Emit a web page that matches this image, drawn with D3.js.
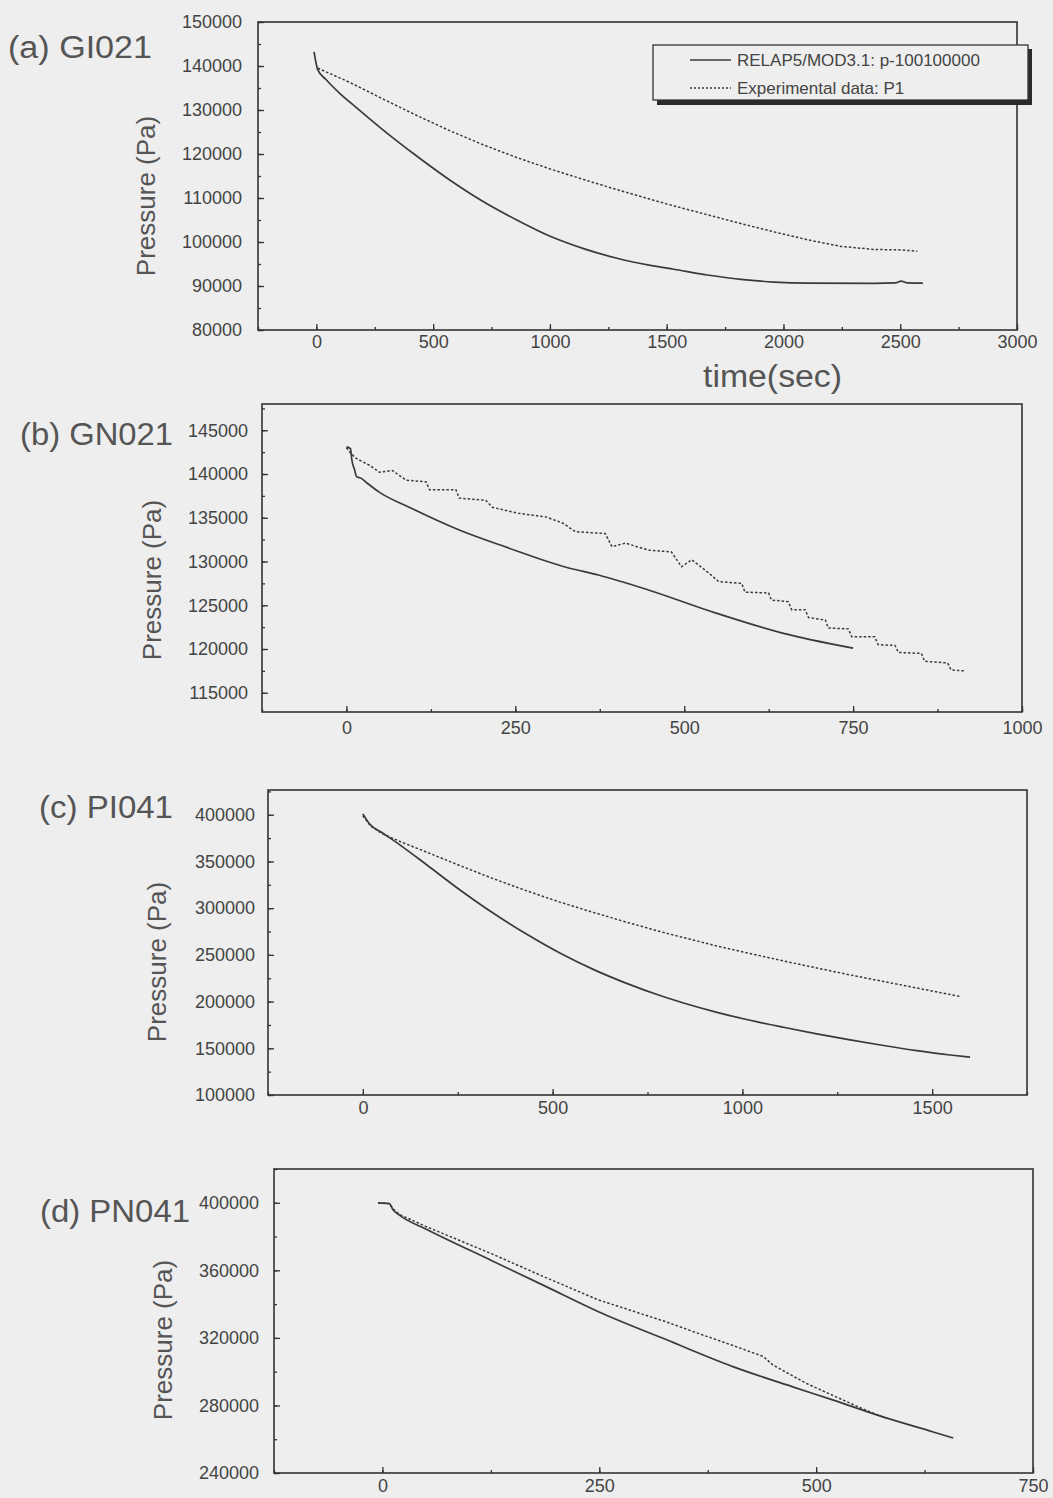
<!DOCTYPE html>
<html><head><meta charset="utf-8">
<script src="https://cdn.jsdelivr.net/npm/d3@7"></script>
<style>
body{margin:0;background:#eeeeee;}
text{font-family:"Liberation Sans",Arial,Helvetica,sans-serif;}
</style>
</head><body>
<svg id="chart" width="1053" height="1498"></svg>
<script>
// ---------------- DATA ----------------
// (a) GI021
const aRelapT = [-10, 6, 40, 100, 170, 285, 428, 571, 714, 858, 1001, 1144, 1287, 1430, 1531, 1674, 1817, 1960, 2103, 2390, 2480, 2504, 2530, 2597];
const aRelapP = [143200, 139100, 137000, 133800, 130600, 125500, 119600, 114100, 109200, 105000, 101300, 98500, 96300, 94700, 93800, 92500, 91500, 90900, 90650, 90600, 90700, 91100, 90700, 90650];
const aExpT = [6, 142, 285, 428, 571, 714, 858, 1001, 1144, 1287, 1430, 1531, 1674, 1817, 1960, 2103, 2247, 2390, 2504, 2573];
const aExpP = [139500, 136300, 132500, 128800, 125300, 122100, 119200, 116600, 114200, 111900, 109700, 108200, 106200, 104200, 102300, 100500, 99000, 98300, 98200, 97900];
const aXTicks = [0, 500, 1000, 1500, 2000, 2500, 3000];
const aYTicks = [80000, 90000, 100000, 110000, 120000, 130000, 140000, 150000];

// (b) GN021
const bRelapT = [0, 6, 8, 12, 15, 22, 30, 49, 93, 167, 236, 329, 373, 447, 546, 644, 750];
const bRelapP = [143100, 142900, 141600, 140500, 139700, 139500, 139000, 137900, 136200, 133600, 131650, 129260, 128460, 126750, 124130, 121850, 120100];
const bExpT = [0, 5, 14, 34, 49, 68, 88, 118, 123, 162, 167, 206, 216, 255, 295, 320, 339, 383, 393, 413, 447, 481, 496, 511, 536, 551, 585, 590, 625, 629, 654, 659, 679, 684, 709, 713, 743, 748, 782, 787, 812, 817, 851, 856, 890, 895, 915];
const bExpP = [143000, 142500, 141800, 141000, 140200, 140400, 139300, 139100, 138200, 138200, 137240, 137000, 136200, 135500, 135100, 134400, 133400, 133200, 131700, 132100, 131300, 131100, 129400, 130200, 128700, 127700, 127500, 126500, 126400, 125600, 125400, 124500, 124500, 123600, 123300, 122400, 122300, 121400, 121400, 120500, 120400, 119600, 119500, 118600, 118400, 117600, 117500];
const bXTicks = [0, 250, 500, 750, 1000];
const bYTicks = [115000, 120000, 125000, 130000, 135000, 140000, 145000];

// (c) PI041
const cRelapT = [0, 18, 50, 100, 168, 256, 344, 432, 519, 607, 695, 783, 845, 933, 1020, 1108, 1196, 1284, 1372, 1460, 1548, 1600];
const cRelapP = [401000, 390000, 381000, 367000, 346500, 319500, 294500, 272000, 252000, 234500, 219500, 206500, 198500, 188500, 180000, 172500, 165500, 159000, 153000, 147500, 142800, 140500];
const cExpT = [0, 20, 50, 100, 168, 256, 344, 432, 519, 607, 695, 783, 845, 933, 1020, 1108, 1196, 1284, 1372, 1460, 1548, 1573];
const cExpP = [399000, 388000, 380000, 371000, 360000, 345500, 331500, 318500, 306500, 295500, 285000, 275000, 268500, 259500, 251500, 243500, 236000, 228500, 221500, 214500, 207500, 205500];
const cXTicks = [0, 500, 1000, 1500];
const cYTicks = [100000, 150000, 200000, 250000, 300000, 350000, 400000];

// (d) PN041
const dRelapT = [-5, 8, 12, 20, 50, 125, 187, 249, 327, 404, 473, 519, 577, 635, 658];
const dRelapP = [400000, 399500, 396000, 392500, 384500, 366000, 350800, 335500, 319000, 303000, 291000, 283300, 273200, 264300, 260700];
const dExpT = [-5, 8, 12, 20, 50, 125, 187, 249, 288, 327, 365, 404, 439, 450, 473, 489, 519, 558, 580];
const dExpP = [400000, 399500, 396500, 393000, 386000, 370000, 356000, 342500, 336000, 329500, 322500, 315500, 309000, 304000, 297500, 293000, 286000, 277000, 272500];
const dXTicks = [0, 250, 500, 750];
const dYTicks = [240000, 280000, 320000, 360000, 400000];

const legendLabels = ["RELAP5/MOD3.1: p-100100000", "Experimental data: P1"];

// ---------------- LAYOUT ----------------
const panels = [
  {title:"(a) GI021", tx:8, ty:58, tw:144, xd:[-250,3000], xr:[258,1017], yd:[80000,150000], yr:[330,22],
   xt:aXTicks, xm:d3.range(-250,3001,250), yt:aYTicks, ym:d3.range(80000,150001,5000),
   rt:aRelapT, rp:aRelapP, et:aExpT, ep:aExpP, lx:146, ly:196, ypad:16, xpad:5},
  {title:"(b) GN021", tx:20, ty:445, tw:153, xd:[-125,1000], xr:[262,1022], yd:[112800,148000], yr:[712,404],
   xt:bXTicks, xm:d3.range(-125,1001,125), yt:bYTicks, ym:d3.range(115000,147501,2500),
   rt:bRelapT, rp:bRelapP, et:bExpT, ep:bExpP, lx:152, ly:580, ypad:14, xpad:9},
  {title:"(c) PI041", tx:39, ty:818, tw:134, xd:[-250,1750], xr:[268,1027], yd:[100000,426500], yr:[1095,790],
   xt:cXTicks, xm:d3.range(-250,1751,250), yt:cYTicks, ym:d3.range(100000,425001,25000),
   rt:cRelapT, rp:cRelapP, et:cExpT, ep:cExpP, lx:157, ly:962, ypad:13, xpad:6},
  {title:"(d) PN041", tx:40, ty:1222, tw:150, xd:[-125,750], xr:[274,1033], yd:[240000,420000], yr:[1473,1169],
   xt:dXTicks, xm:d3.range(-125,751,125), yt:dYTicks, ym:d3.range(240000,420001,20000),
   rt:dRelapT, rp:dRelapP, et:dExpT, ep:dExpP, lx:163, ly:1340, ypad:15, xpad:6}
];

const svg = d3.select("#chart");
svg.append("rect").attr("width",1053).attr("height",1498).attr("fill","#eeeeee");

const axisColor = "#333";
const lineColor = "#3a3a3a";

panels.forEach(p => {
  const x = d3.scaleLinear().domain(p.xd).range(p.xr);
  const y = d3.scaleLinear().domain(p.yd).range(p.yr);
  const g = svg.append("g");

  // frame
  g.append("rect")
    .attr("x", p.xr[0]).attr("y", p.yr[1])
    .attr("width", p.xr[1]-p.xr[0]).attr("height", p.yr[0]-p.yr[1])
    .attr("fill","none").attr("stroke",axisColor).attr("stroke-width",1.6);

  // minor ticks
  const yMin = g.append("g").attr("transform",`translate(${p.xr[0]},0)`)
    .call(d3.axisLeft(y).tickValues(p.ym).tickSize(-3).tickFormat(""));
  const xMin = g.append("g").attr("transform",`translate(0,${p.yr[0]})`)
    .call(d3.axisBottom(x).tickValues(p.xm).tickSize(-3).tickFormat(""));
  // major ticks
  const yAx = g.append("g").attr("transform",`translate(${p.xr[0]},0)`)
    .call(d3.axisLeft(y).tickValues(p.yt).tickSize(-6).tickPadding(p.ypad).tickFormat(d3.format("d")));
  const xAx = g.append("g").attr("transform",`translate(0,${p.yr[0]})`)
    .call(d3.axisBottom(x).tickValues(p.xt).tickSize(-6).tickPadding(p.xpad).tickFormat(d3.format("d")));

  [yMin,xMin,yAx,xAx].forEach(a => {
    a.select(".domain").remove();
    a.selectAll("line").attr("stroke",axisColor).attr("stroke-width",1.3);
    a.selectAll("text").attr("fill","#444").attr("font-size",18)
      .attr("font-family",'"Liberation Sans",Arial,sans-serif');
  });

  // lines
  const relap = p.rt.map((t,i)=>[t,p.rp[i]]);
  const exp = p.et.map((t,i)=>[t,p.ep[i]]);
  g.append("path").datum(exp)
    .attr("d", d3.line().x(d=>x(d[0])).y(d=>y(d[1])).curve(d3.curveLinear))
    .attr("fill","none").attr("stroke",lineColor).attr("stroke-width",1.5)
    .attr("stroke-dasharray","2.5,2");
  g.append("path").datum(relap)
    .attr("d", d3.line().x(d=>x(d[0])).y(d=>y(d[1])).curve(d3.curveMonotoneX))
    .attr("fill","none").attr("stroke",lineColor).attr("stroke-width",1.7);

  // titles
  g.append("text").attr("x",p.tx).attr("y",p.ty).text(p.title)
    .attr("font-size",31).attr("fill","#555")
    .attr("textLength",p.tw).attr("lengthAdjust","spacingAndGlyphs");
  g.append("text").attr("transform",`translate(${p.lx},${p.ly}) rotate(-90)`)
    .attr("text-anchor","middle").attr("dominant-baseline","central")
    .attr("font-size",26).attr("fill","#555").text("Pressure (Pa)");

  if (p.title.startsWith("(a)")) {
    // x-axis title
    g.append("text").attr("x",703).attr("y",387)
      .attr("font-size",31).attr("fill","#555")
      .attr("textLength",139).attr("lengthAdjust","spacingAndGlyphs").text("time(sec)");
    // legend
    const lg = g.append("g");
    lg.append("rect").attr("x",657).attr("y",49).attr("width",375).attr("height",56).attr("fill","#2a2a2a");
    lg.append("rect").attr("x",653).attr("y",45).attr("width",375).attr("height",55)
      .attr("fill","#eeeeee").attr("stroke","#333").attr("stroke-width",1.3);
    const rows = [{y:60, dash:null},{y:88, dash:"2,2"}];
    rows.forEach((r,i)=>{
      const l = lg.append("line").attr("x1",690).attr("x2",731).attr("y1",r.y).attr("y2",r.y)
        .attr("stroke",lineColor).attr("stroke-width",1.4);
      if (r.dash) l.attr("stroke-dasharray",r.dash);
      lg.append("text").attr("x",737).attr("y",r.y).attr("dominant-baseline","central")
        .attr("font-size",17).attr("fill","#444").text(legendLabels[i]);
    });
  }
});
</script>
</body></html>
